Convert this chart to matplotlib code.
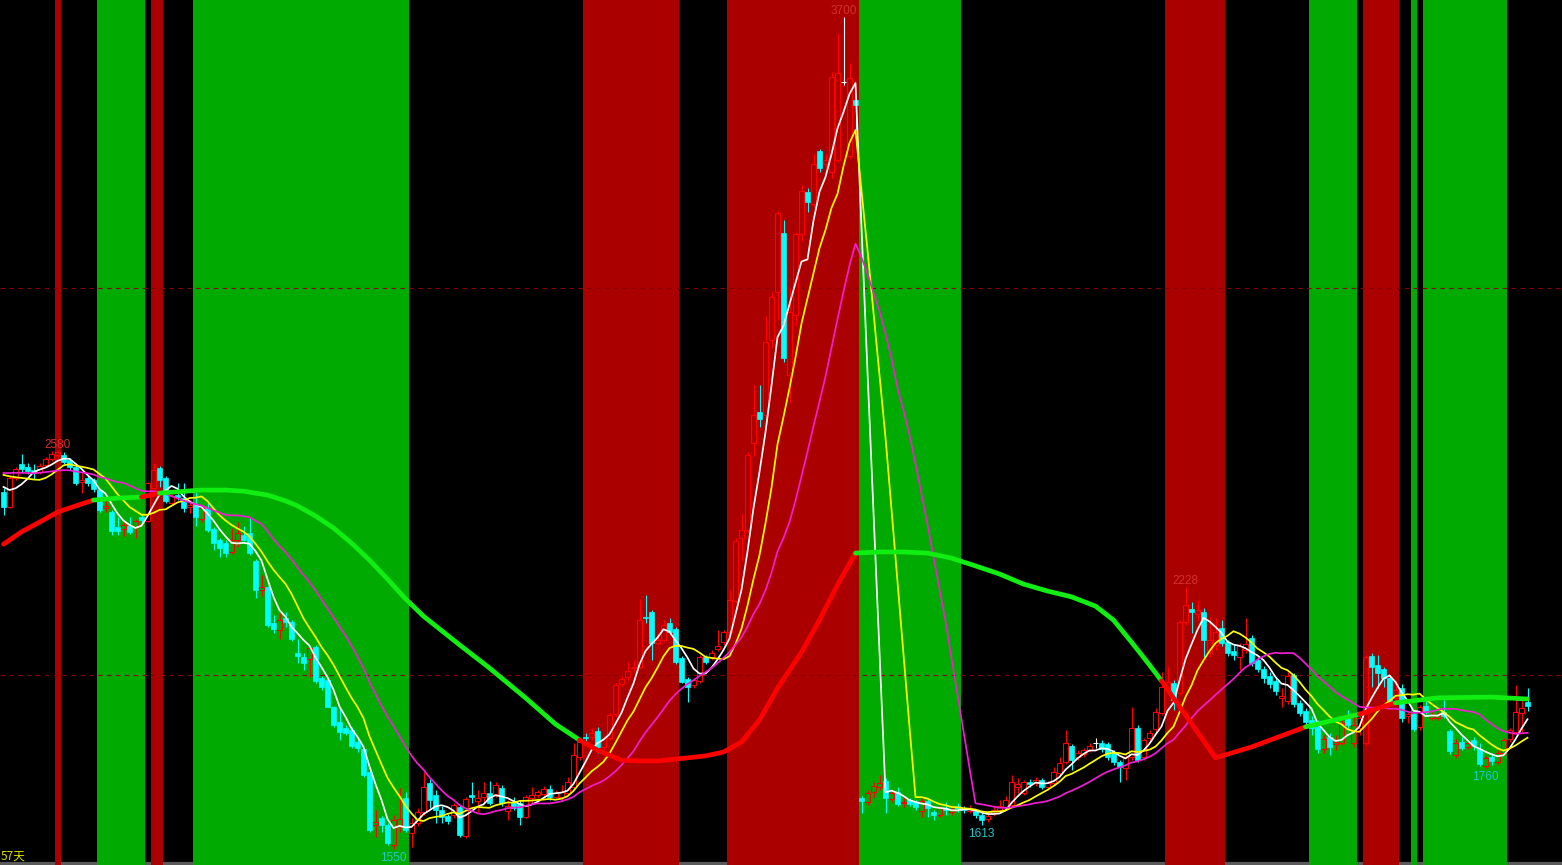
import matplotlib
matplotlib.use("Agg")
import matplotlib.pyplot as plt
import numpy as np
import pandas as pd

# daily bars
opens = [2473, 2434, 2509, 2545, 2538, 2530, 2525, 2543, 2558, 2568,
         2568, 2556, 2538, 2499, 2509, 2504, 2478, 2432, 2421, 2382,
         2377, 2385, 2382, 2408, 2398, 2483, 2535, 2509, 2444, 2465,
         2457, 2434, 2439, 2403, 2432, 2377, 2349, 2341, 2318, 2349,
         2362, 2367, 2295, 2220, 2227, 2134, 2116, 2147, 2137, 2057,
         2047, 2041, 2072, 1992, 1987, 1917, 1879, 1863, 1858, 1827,
         1809, 1749, 1612, 1631, 1612, 1561, 1610, 1682, 1592, 1618,
         1646, 1721, 1690, 1651, 1636, 1638, 1659, 1584, 1690, 1674,
         1685, 1695, 1692, 1708, 1649, 1669, 1669, 1633, 1682, 1690,
         1692, 1705, 1685, 1685, 1695, 1711, 1788, 1840, 1840, 1855,
         1814, 1837, 1899, 1977, 1995, 2018, 2021, 2150, 2163, 2083,
         2090, 2134, 2119, 2044, 1990, 1974, 1984, 2047, 2047, 2067,
         2085, 2111, 2191, 2354, 2375, 2600, 2680, 2672, 2866, 2990,
         3142, 2775, 2930, 3140, 3248, 3217, 3354, 3320, 3300, 3331,
         3532, 3341, 3486, 1682, 1672, 1698, 1711, 1726, 1680, 1698,
         1669, 1677, 1672, 1649, 1674, 1646, 1638, 1656, 1646, 1661,
         1656, 1649, 1649, 1638, 1628, 1643, 1651, 1659, 1664, 1711,
         1695, 1723, 1721, 1729, 1711, 1721, 1747, 1775, 1817, 1788,
         1796, 1806, 1824, 1824, 1822, 1798, 1775, 1760, 1788, 1863,
         1788, 1837, 1860, 1902, 1966, 1979, 1953, 2137, 2171, 2158,
         2163, 2060, 2078, 2122, 2085, 2062, 2047, 2065, 2096, 2039,
         2015, 1997, 1984, 1941, 1933, 1999, 1928, 1907, 1884, 1866,
         1809, 1840, 1822, 1824, 1889, 1824, 1863, 1824, 2049, 2026,
         2015, 1992, 1941, 1966, 1894, 1899, 1866, 1920, 1889, 1889,
         1904, 1855, 1793, 1827, 1814, 1832, 1809, 1765, 1788, 1775,
         1798, 1835, 1853, 1902, 1930]

closes = [2434, 2509, 2532, 2532, 2527, 2522, 2540, 2558, 2571, 2576,
          2550, 2538, 2496, 2504, 2496, 2481, 2426, 2437, 2372, 2372,
          2388, 2370, 2398, 2401, 2496, 2530, 2504, 2450, 2463, 2460,
          2432, 2439, 2408, 2432, 2375, 2341, 2328, 2315, 2349, 2367,
          2349, 2315, 2220, 2227, 2129, 2119, 2142, 2137, 2093, 2049,
          2031, 2070, 1984, 1969, 1917, 1871, 1853, 1850, 1817, 1811,
          1742, 1600, 1620, 1612, 1566, 1625, 1628, 1600, 1618, 1646,
          1711, 1677, 1651, 1633, 1623, 1664, 1587, 1680, 1685, 1682,
          1695, 1669, 1716, 1669, 1661, 1656, 1633, 1685, 1690, 1698,
          1705, 1685, 1695, 1698, 1723, 1793, 1827, 1837, 1850, 1814,
          1837, 1897, 1974, 1990, 2010, 2021, 2142, 2147, 2083, 2090,
          2129, 2111, 2034, 1982, 1969, 1987, 2047, 2034, 2057, 2075,
          2111, 2194, 2346, 2375, 2569, 2672, 2662, 2861, 2977, 3194,
          2819, 2938, 3140, 3251, 3222, 3320, 3310, 3331, 3545, 3556,
          3532, 3543, 3473, 1674, 1695, 1713, 1721, 1682, 1695, 1667,
          1672, 1667, 1659, 1674, 1656, 1638, 1656, 1651, 1651, 1656,
          1651, 1654, 1638, 1625, 1636, 1651, 1661, 1677, 1723, 1718,
          1723, 1718, 1729, 1711, 1721, 1749, 1772, 1824, 1780, 1798,
          1806, 1817, 1824, 1809, 1788, 1775, 1762, 1788, 1863, 1780,
          1832, 1850, 1904, 1969, 1982, 1935, 2137, 2181, 2163, 2168,
          2090, 2090, 2111, 2083, 2057, 2052, 2075, 2080, 2031, 2015,
          1992, 1977, 1959, 1946, 1997, 1925, 1902, 1879, 1863, 1809,
          1835, 1814, 1827, 1876, 1871, 1871, 1889, 2047, 2021, 2005,
          1992, 1930, 1961, 1889, 1899, 1860, 1917, 1904, 1897, 1897,
          1894, 1804, 1824, 1811, 1824, 1819, 1770, 1785, 1778, 1798,
          1832, 1858, 1904, 1915, 1920]

highs = [2483, 2517, 2538, 2571, 2548, 2545, 2548, 2563, 2579, 2580,
         2576, 2561, 2543, 2525, 2517, 2509, 2481, 2452, 2426, 2408,
         2395, 2408, 2403, 2413, 2499, 2548, 2540, 2514, 2468, 2496,
         2496, 2452, 2473, 2439, 2447, 2382, 2354, 2349, 2380, 2395,
         2385, 2406, 2300, 2258, 2230, 2155, 2160, 2163, 2142, 2093,
         2057, 2075, 2078, 1997, 1992, 1920, 1915, 1871, 1866, 1837,
         1811, 1755, 1651, 1636, 1618, 1638, 1708, 1698, 1631, 1656,
         1749, 1731, 1703, 1661, 1641, 1669, 1664, 1685, 1723, 1703,
         1723, 1726, 1723, 1716, 1677, 1685, 1677, 1690, 1711, 1703,
         1713, 1716, 1703, 1716, 1736, 1824, 1832, 1850, 1863, 1866,
         1842, 1902, 1979, 1997, 2034, 2039, 2196, 2206, 2168, 2109,
         2142, 2147, 2124, 2049, 1995, 1992, 2052, 2052, 2065, 2116,
         2116, 2220, 2354, 2416, 2575, 2749, 2749, 2928, 2990, 3200,
         3176, 3000, 3145, 3266, 3258, 3346, 3359, 3346, 3558, 3656,
         3700, 3581, 3491, 1687, 1703, 1723, 1742, 1734, 1703, 1711,
         1685, 1682, 1677, 1682, 1680, 1651, 1661, 1672, 1661, 1669,
         1661, 1664, 1654, 1646, 1646, 1661, 1677, 1687, 1741, 1734,
         1729, 1731, 1736, 1734, 1726, 1762, 1788, 1858, 1822, 1806,
         1811, 1824, 1837, 1832, 1827, 1806, 1780, 1793, 1917, 1871,
         1837, 1858, 1915, 2008, 2021, 1987, 2142, 2228, 2189, 2194,
         2173, 2150, 2147, 2142, 2090, 2078, 2083, 2147, 2103, 2047,
         2023, 2008, 1992, 1966, 2008, 2005, 1935, 1915, 1894, 1884,
         1845, 1850, 1845, 1897, 1910, 1897, 1904, 2052, 2057, 2052,
         2021, 2000, 1974, 1977, 1904, 1904, 1922, 1935, 1904, 1904,
         1935, 1860, 1834, 1840, 1832, 1840, 1824, 1791, 1798, 1806,
         1837, 1863, 1974, 1935, 1966]

lows = [2413, 2431, 2504, 2525, 2519, 2507, 2519, 2538, 2553, 2563,
        2545, 2530, 2491, 2470, 2488, 2473, 2421, 2421, 2362, 2362,
        2359, 2364, 2354, 2393, 2395, 2478, 2486, 2444, 2439, 2452,
        2421, 2419, 2385, 2395, 2370, 2323, 2305, 2305, 2313, 2331,
        2346, 2310, 2199, 2204, 2124, 2109, 2093, 2124, 2088, 2031,
        2013, 1995, 1979, 1961, 1917, 1866, 1832, 1845, 1811, 1801,
        1737, 1594, 1581, 1594, 1561, 1550, 1594, 1594, 1556, 1610,
        1638, 1656, 1618, 1618, 1615, 1631, 1581, 1579, 1669, 1646,
        1669, 1664, 1685, 1661, 1625, 1651, 1612, 1631, 1669, 1682,
        1685, 1677, 1682, 1677, 1690, 1705, 1780, 1829, 1832, 1799,
        1809, 1832, 1894, 1972, 1987, 2008, 2016, 2134, 2039, 2078,
        2085, 2106, 2028, 1979, 1930, 1966, 1979, 2028, 2039, 2062,
        2078, 2106, 2186, 2295, 2370, 2566, 2641, 2662, 2845, 2917,
        2810, 2703, 2902, 3121, 3196, 3212, 3300, 3310, 3284, 3326,
        3525, 3336, 3408, 1643, 1664, 1685, 1703, 1643, 1672, 1661,
        1659, 1661, 1651, 1633, 1633, 1625, 1633, 1638, 1638, 1646,
        1643, 1643, 1631, 1613, 1620, 1636, 1646, 1651, 1659, 1695,
        1690, 1711, 1713, 1705, 1703, 1716, 1742, 1770, 1755, 1780,
        1788, 1801, 1811, 1801, 1780, 1767, 1723, 1729, 1780, 1775,
        1780, 1829, 1850, 1897, 1961, 1910, 1948, 2129, 2109, 2142,
        2047, 2047, 2065, 2075, 2049, 2039, 2013, 2057, 2023, 2008,
        1979, 1966, 1948, 1917, 1925, 1917, 1894, 1871, 1845, 1799,
        1799, 1793, 1806, 1819, 1858, 1814, 1845, 1819, 1969, 1966,
        1969, 1923, 1930, 1879, 1876, 1855, 1858, 1899, 1884, 1884,
        1889, 1796, 1785, 1806, 1809, 1806, 1765, 1760, 1767, 1770,
        1793, 1827, 1848, 1853, 1907]

# closes before the visible window (only feed the moving averages)
hist_close = [2510, 2520, 2535, 2540, 2530, 2515, 2525, 2535, 2530, 2530,
              2545, 2555, 2550, 2545, 2545, 2549, 2510, 2480, 2457]

# long trend line (bar index -> value) and the bars where it is red
long_idx = [0, 3, 6, 9, 13, 15, 19, 23, 26, 33, 37, 40, 44, 47, 49, 52, 55,
            58, 61, 64, 67, 70, 76, 81, 87, 92, 96, 99, 103, 106, 109, 114,
            117, 120, 123, 126, 129, 133, 136, 139, 142, 146, 150, 154, 158,
            162, 166, 170, 174, 178, 182, 185, 188, 191, 193, 202, 208, 217,
            226, 232, 239, 248, 254]
long_val = [2338, 2370, 2395, 2421, 2442, 2452, 2457, 2460, 2470, 2478, 2478,
            2475, 2465, 2450, 2437, 2411, 2380, 2341, 2297, 2248, 2197, 2152,
            2078, 2018, 1941, 1873, 1832, 1806, 1780, 1778, 1778, 1786, 1791,
            1801, 1827, 1884, 1966, 2059, 2142, 2233, 2315, 2318, 2318, 2315,
            2302, 2282, 2261, 2235, 2217, 2202, 2178, 2142, 2085, 2026, 1985,
            1786, 1814, 1866, 1899, 1928, 1941, 1943, 1938]
long_red = [(0, 15), (23, 26), (96, 142), (193, 217), (226, 232)]

# signal bands (first bar, last bar)
red_bands = [(9, 9), (25, 26), (97, 112), (121, 142), (194, 203), (227, 232)]
green_bands = [(16, 23), (32, 67), (143, 159), (218, 225), (235, 235), (237, 250)]

high_marks = [9, 140, 197]
low_marks = [65, 163, 247]
ref_levels = [3000, 2000]

o = np.array(opens, float)
c = np.array(closes, float)
h = np.array(highs, float)
l = np.array(lows, float)
x = np.arange(len(c))

full = pd.Series(hist_close + closes, dtype=float)
ma5 = full.rolling(5).mean().values[len(hist_close):]
ma10 = full.rolling(10).mean().values[len(hist_close):]
ma20 = full.rolling(20).mean().values[len(hist_close):]

fig = plt.figure(figsize=(15.62, 8.65), dpi=100)
fig.patch.set_facecolor("black")
ax = fig.add_axes([0, 0, 1, 1])
ax.set_facecolor("black")
ax.set_xlim(-3.5 / 6, (1562 - 3.5) / 6)
ax.set_ylim(1509.1, 3744.2)
for s in ax.spines.values():
    s.set_visible(False)
ax.set_xticks([])
ax.set_yticks([])

# bottom axis strip
ax.axhline(1515, color="#5a5a5a", lw=2.3, zorder=0.5)

for a, b in red_bands:
    ax.axvspan(a - 0.5, b + 0.5, color="#aa0000", lw=0, zorder=1)
for a, b in green_bands:
    ax.axvspan(a - 0.5, b + 0.5, color="#00aa00", lw=0, zorder=1)

for p in ref_levels:
    ax.axhline(p, color="#880000", lw=0.8, ls=(0, (4, 4)), zorder=2)

# candles
up = c > o
dn = c < o
eq = c == o
w = 0.75
ax.bar(x[dn], (o - c)[dn], bottom=c[dn], width=w, color="#00ffff",
       edgecolor="#00ffff", lw=0.5, zorder=3)
ax.vlines(x[dn], l[dn], h[dn], color="#00ffff", lw=0.8, zorder=2.9)
ax.bar(x[up], (c - o)[up], bottom=o[up], width=w, fill=False,
       edgecolor="#ff0000", lw=0.8, zorder=3)
ax.vlines(x[up], c[up], h[up], color="#ff0000", lw=0.8, zorder=3)
ax.vlines(x[up], l[up], o[up], color="#ff0000", lw=0.8, zorder=3)
ax.vlines(x[eq], l[eq], h[eq], color="white", lw=0.8, zorder=3)
ax.hlines(c[eq], x[eq] - w / 2, x[eq] + w / 2, color="white", lw=0.8, zorder=3)

# moving averages
ax.plot(x, ma5, color="white", lw=1.25, zorder=4)
ax.plot(x, ma10, color="#ffff00", lw=1.25, zorder=4)
ax.plot(x, ma20, color="#f01ed2", lw=1.25, zorder=4)

# long trend line, coloured by state
def is_red(i0, i1):
    return any(a <= i0 and i1 <= b for a, b in long_red)

seg_x, seg_y = [long_idx[0]], [long_val[0]]
cur = is_red(long_idx[0], long_idx[1])
for k in range(1, len(long_idx)):
    red = is_red(long_idx[k - 1], long_idx[k])
    if red != cur:
        ax.plot(seg_x, seg_y, color="#ff0000" if cur else "#11ee11",
                lw=3.4, solid_capstyle="round", solid_joinstyle="round", zorder=5)
        seg_x, seg_y = [long_idx[k - 1]], [long_val[k - 1]]
        cur = red
    seg_x.append(long_idx[k])
    seg_y.append(long_val[k])
ax.plot(seg_x, seg_y, color="#ff0000" if cur else "#11ee11",
        lw=3.4, solid_capstyle="round", solid_joinstyle="round", zorder=5)

# extreme labels
for i in high_marks:
    ax.annotate(f"{h[i]:.0f}", (x[i], h[i]), xytext=(0, 0),
                textcoords="offset points", ha="center", va="bottom",
                color="#d03232", fontsize=8.5, family="Liberation Sans", zorder=6)
for i in low_marks:
    ax.annotate(f"{l[i]:.0f}", (x[i], l[i]), xytext=(0, -2),
                textcoords="offset points", ha="center", va="top",
                color="#20c8c8", fontsize=8.5, family="Liberation Sans", zorder=6)

ax.text(0.0005, 0.003, "57天", transform=ax.transAxes, ha="left", va="bottom",
        color="#dcdc00", fontsize=8.5,
        family=["Noto Sans CJK SC", "DejaVu Sans"], zorder=6)

fig.savefig("out.png", dpi=100, facecolor="black")
